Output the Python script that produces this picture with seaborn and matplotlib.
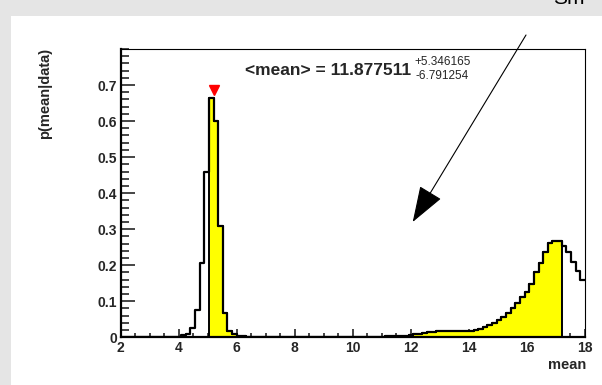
import numpy as np
import pandas as pd
import matplotlib
matplotlib.use("Agg")
import matplotlib.pyplot as plt
import matplotlib.transforms as mtransforms
from matplotlib.ticker import FixedLocator, MultipleLocator
import seaborn as sns

# Posterior of the mean: 100 bins of width 0.16 on [2, 18]
bin_lo, bin_hi, n_bins = 2.0, 18.0, 100
posterior = [
    0.000, 0.000, 0.000, 0.000, 0.000, 0.000, 0.000, 0.000, 0.000, 0.000,   # 2.00 - 3.44
    0.000, 0.001, 0.002, 0.005, 0.010, 0.027, 0.076, 0.207, 0.458, 0.665,   # 3.60 - 5.04
    0.600, 0.308, 0.068, 0.018, 0.008, 0.004, 0.003, 0.002, 0.002, 0.001,   # 5.20 - 6.64
    0.001, 0.001, 0.001, 0.001, 0.001, 0.001, 0.001, 0.001, 0.001, 0.001,   # 6.80 - 8.24
    0.001, 0.001, 0.001, 0.001, 0.001, 0.001, 0.001, 0.001, 0.001, 0.001,   # 8.40 - 9.84
    0.001, 0.001, 0.002, 0.002, 0.002, 0.002, 0.002, 0.003, 0.003, 0.003,   # 10.00 - 11.44
    0.004, 0.004, 0.005, 0.008, 0.009, 0.011, 0.014, 0.016, 0.017, 0.017,   # 11.60 - 13.04
    0.017, 0.017, 0.017, 0.018, 0.018, 0.018, 0.020, 0.023, 0.028, 0.033,   # 13.20 - 14.64
    0.039, 0.048, 0.057, 0.067, 0.080, 0.094, 0.111, 0.127, 0.148, 0.182,   # 14.80 - 16.24
    0.207, 0.237, 0.262, 0.268, 0.266, 0.254, 0.236, 0.210, 0.184, 0.159,   # 16.40 - 17.84
]
# bins [first, last) lying inside the credible interval
interval_first, interval_last = 19, 95
mode_x = 5.2

mean_text = "<mean> = 11.877511"
err_up = "+5.346165"
err_dn = "-6.791254"
x_label = "mean"
y_label = "p(mean|data)"
corner_title = "Sm"
x_ticks = [2, 4, 6, 8, 10, 12, 14, 16, 18]
y_ticks = [0.0, 0.1, 0.2, 0.3, 0.4, 0.5, 0.6, 0.7]
y_tick_labels = ["0", "0.1", "0.2", "0.3", "0.4", "0.5", "0.6", "0.7"]

sns.set_style("white")
plt.rcParams["font.family"] = ["Liberation Sans", "DejaVu Sans"]

W, H = 602, 385
fig = plt.figure(figsize=(W / 100, H / 100), dpi=100)
fig.patch.set_facecolor("#e5e5e5")
# white pad behind the frame
fig.patches.append(plt.Rectangle((11 / W, 0), 1 - 11 / W, (H - 16) / H,
                                 transform=fig.transFigure, facecolor="white",
                                 edgecolor="none", zorder=-10))

ax = fig.add_axes([120.7 / W, (H - 337.3) / H, (585.0 - 120.7) / W, (337.3 - 49.0) / H])
ax.set_zorder(1)
ax.set_facecolor("white")

edges = [bin_lo + i * (bin_hi - bin_lo) / n_bins for i in range(n_bins + 1)]
centers = [0.5 * (edges[i] + edges[i + 1]) for i in range(n_bins)]
df = pd.DataFrame({"mean": centers, "p": posterior})
inside = df.iloc[interval_first:interval_last]

# credible region, filled yellow with a black outline
sns.histplot(data=inside, x="mean", weights="p",
             bins=edges[interval_first:interval_last + 1],
             element="step", fill=True, color="yellow", alpha=1,
             edgecolor="black", linewidth=1.4, ax=ax, zorder=2)
# full posterior as an outline
sns.histplot(data=df, x="mean", weights="p", bins=edges,
             element="step", fill=False, color="black", linewidth=1.6,
             ax=ax, zorder=3)

# red marker above the most probable bin
peak = max(posterior)
mk_tr = mtransforms.offset_copy(ax.transData, fig=fig, x=0, y=5.8, units="points")
ax.plot([mode_x], [peak], marker="v", markersize=7.2, color="red",
        linestyle="none", transform=mk_tr, zorder=4, clip_on=False)

ax.set_xlim(bin_lo, bin_hi)
ax.set_ylim(0, 0.8)
ax.set_xlabel("")
ax.set_ylabel("")

ax.xaxis.set_major_locator(FixedLocator(x_ticks))
ax.xaxis.set_minor_locator(MultipleLocator(0.5))
ax.yaxis.set_major_locator(FixedLocator(y_ticks))
ax.yaxis.set_minor_locator(MultipleLocator(0.02))
ax.set_xticklabels([str(t) for t in x_ticks])
ax.set_yticklabels(y_tick_labels)

ax.tick_params(axis="x", which="major", direction="in", length=5.5, width=1.2, pad=3.0,
               labelsize=10, bottom=True, top=False)
ax.tick_params(axis="x", which="minor", direction="in", length=2.6, width=1.2,
               bottom=True, top=False)
ax.tick_params(axis="y", which="major", direction="in", length=9.9, width=1.2, pad=2.5,
               labelsize=10, left=True, right=False)
ax.tick_params(axis="y", which="minor", direction="in", length=5.5, width=1.2,
               left=True, right=False)
for lab in ax.get_xticklabels() + ax.get_yticklabels():
    lab.set_fontweight("bold")

for side in ("left", "bottom"):
    ax.spines[side].set_linewidth(1.6)
    ax.spines[side].set_color("black")
for side in ("top", "right"):
    ax.spines[side].set_visible(True)
    ax.spines[side].set_linewidth(0.8)
    ax.spines[side].set_color("black")
for sp in ax.spines.values():
    sp.set_zorder(5)

# axis titles
fig.text(586 / W, (H - 369) / H, x_label, ha="right", va="baseline",
         fontsize=10.5, fontweight="bold")
fig.text(38 / W, (H - 48) / H, y_label, ha="right", va="top", rotation=90,
         fontsize=10.5, fontweight="bold", rotation_mode="anchor")

# mean with asymmetric errors
fig.text(245 / W, (H - 75) / H, mean_text, ha="left", va="baseline",
         fontsize=12.5, fontweight="bold")
fig.text(414 / W, (H - 65) / H, err_up, ha="left", va="baseline", fontsize=8.5)
fig.text(415 / W, (H - 79) / H, err_dn, ha="left", va="baseline", fontsize=8.5)

# arrow pointing into the gap between the two modes
fig.add_artist(matplotlib.patches.FancyArrowPatch(
    posA=(526, H - 35), posB=(412.7, H - 222), transform=None,
    arrowstyle="-|>,head_length=2.3,head_width=0.8", mutation_scale=10,
    lw=0.8, color="black", shrinkA=0, shrinkB=0, zorder=10))

# title cut by the top edge of the canvas
fig.text(553 / W, (H - 4) / H, corner_title, ha="left", va="baseline",
         fontsize=15, color="black")

fig.savefig("out.png", dpi=100, facecolor=fig.get_facecolor())
